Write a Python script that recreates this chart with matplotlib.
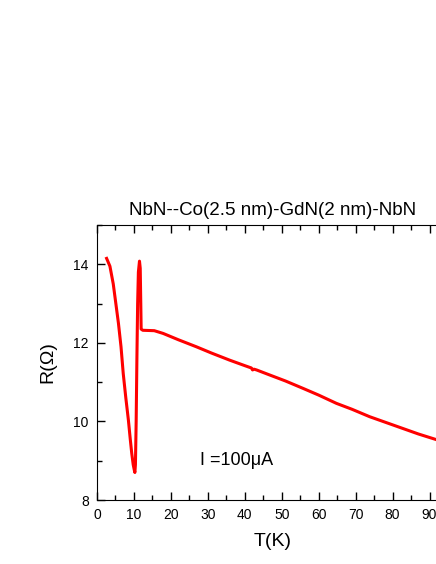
import numpy as np
import matplotlib.pyplot as plt
from matplotlib.ticker import MultipleLocator

plt.rcParams['font.family'] = ['Liberation Sans', 'DejaVu Sans']

# temperature (K) and resistance (Ohm)
T = [2.6, 3.5, 4.4, 5.1, 5.8, 6.5, 7.1, 7.8, 8.5, 9.0, 9.4, 9.8, 10.1, 10.25,
     10.4, 10.6, 10.8, 11.0, 11.2, 11.5, 11.7, 11.85, 11.95, 12.4, 15.5, 17.9,
     22.0, 26.9, 31.0, 35.9, 40.0, 41.8, 42.1, 42.5, 43.2, 46.8, 51.0, 55.8,
     60.0, 64.8, 69.0, 73.8, 78.0, 82.8, 87.0, 91.4, 93.0]
R = [14.15, 13.95, 13.5, 13.0, 12.5, 11.9, 11.22, 10.6, 10.03, 9.55, 9.19, 8.9,
     8.76, 8.7, 8.9, 10.0, 11.6, 13.0, 13.8, 14.08, 13.9, 13.0, 12.35, 12.32,
     12.31, 12.24, 12.08, 11.9, 11.74, 11.56, 11.42, 11.36, 11.31, 11.33, 11.31,
     11.18, 11.03, 10.84, 10.67, 10.46, 10.31, 10.12, 9.98, 9.82, 9.68, 9.55, 9.5]

title = 'NbN--Co(2.5 nm)-GdN(2 nm)-NbN'
note = 'I =100\u03bcA'

fig = plt.figure(figsize=(4.36, 5.64), dpi=100)
ax = fig.add_axes([97 / 436, 64 / 564, 351 / 436, 275 / 564])

ax.plot(T, R, color='red', lw=2.2)

ax.set_xlim(0, 95)
ax.set_ylim(8, 15)
ax.xaxis.set_major_locator(MultipleLocator(10))
ax.xaxis.set_minor_locator(MultipleLocator(5))
ax.yaxis.set_major_locator(MultipleLocator(2))
ax.yaxis.set_minor_locator(MultipleLocator(1))
ax.set_yticks([8, 10, 12, 14])

ax.tick_params(axis='both', which='both', direction='in', top=True, right=False)
ax.tick_params(axis='both', which='major', length=6, width=1)
ax.tick_params(axis='both', which='minor', length=3.5, width=1)
ax.tick_params(axis='x', labelsize=10, pad=5.5)
ax.tick_params(axis='y', labelsize=10, pad=6)
ax.spines['right'].set_visible(False)

ax.set_xlabel('T(K)', fontsize=14, labelpad=8)
ax.set_ylabel('R(\u03a9)', fontsize=14, labelpad=12)
ax.set_title(title, fontsize=13.5, pad=7)

ax.text(28, 9.0, note, fontsize=13, va='center', ha='left')

plt.savefig('out.png', dpi=100)
